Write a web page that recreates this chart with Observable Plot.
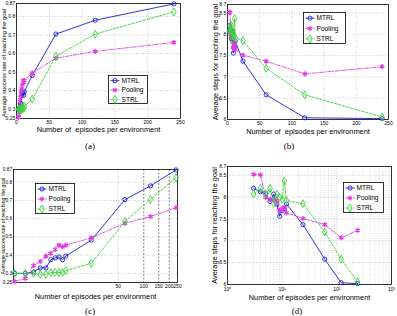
<!DOCTYPE html>
<html><head><meta charset="utf-8">
<script src="https://cdn.jsdelivr.net/npm/d3@7"></script>
<script src="https://cdn.jsdelivr.net/npm/@observablehq/plot@0.6"></script>
<style>
html,body{margin:0;padding:0;background:#fff;}
#fig{position:relative;width:397px;height:316px;overflow:hidden;background:#fff;font-family:"Liberation Sans",Arial,sans-serif;}
.cap{position:absolute;font-family:"Liberation Serif","DejaVu Serif",serif;font-size:9px;transform:translate(-50%,-50%);white-space:nowrap;}
</style></head><body><div id="fig"></div>
<script>
// ---- data ----
const episodes = [3,4,5,6,7,8,9,10,11,12,24,60,120,240];
const successMTRL    = [0.30,0.30,0.307,0.33,0.33,0.375,0.385,0.39,0.375,0.395,0.482,0.705,0.78,0.868];
const successPooling = [0.255,0.273,0.343,0.365,0.395,0.41,0.432,0.455,0.445,0.455,0.495,0.575,0.612,0.66];
const successSTRL    = [0.30,0.30,0.30,0.295,0.295,0.305,0.305,0.305,0.305,0.315,0.355,0.585,0.705,0.825];
const stepsMTRL    = [8.20,8.12,8.07,7.90,8.07,7.84,7.56,7.69,7.73,7.84,7.37,6.58,6.04,6.02];
const stepsPooling = [8.52,8.51,7.99,7.95,7.93,7.92,7.69,7.73,7.77,7.64,7.51,7.37,7.07,7.24];
const stepsSTRL    = [8.07,8.20,8.08,8.20,7.86,8.07,7.99,7.95,8.37,7.92,7.85,7.20,6.58,6.06];
const methods = ["MTRL","Pooling","STRL"];
const successTicks = [0.25,0.3,0.4,0.5,0.6,0.7,0.8,0.87];
const stepsTicks = [6,6.5,7,7.5,8,8.5,8.7];
const linearXTicks = [0,50,100,150,200,250];
const logXTicksC = [50,100,150,200,250];
const logXTicksD = [1,10,100,1000];

const successBy = {MTRL: successMTRL, Pooling: successPooling, STRL: successSTRL};
const stepsBy = {MTRL: stepsMTRL, Pooling: stepsPooling, STRL: stepsSTRL};
const rows = methods.flatMap(m => episodes.map((e,i) => ({method:m, episodes:e, success:successBy[m][i], steps:stepsBy[m][i]})));

const sty = {
  MTRL:    {color:"#1d1dd4", dash:null, symbol:"circle", r:2.1, sw:0.9},
  Pooling: {color:"#e23ce2", dash:"3.5,1.5,1,1.5", symbol:"asterisk", r:2.4, sw:1.3},
  STRL:    {color:"#3ad23a", dash:"2.5,1.5", symbol:"diamond", r:2.4, sw:0.9}
};

const fig = document.getElementById("fig");
const FONT = "Liberation Sans, Arial, sans-serif";

function seriesMarks(yKey) {
  return methods.flatMap(m => {
    const s = sty[m];
    const d = rows.filter(r => r.method === m);
    return [
      Plot.line(d, {x:"episodes", y:yKey, stroke:s.color, strokeWidth:0.9, strokeDasharray:s.dash}),
      Plot.dot(d, {x:"episodes", y:yKey, symbol:s.symbol, r:s.r, stroke:s.color, fill:"none", strokeWidth:s.sw})
    ];
  });
}

function panel(o) {
  const xTickMarks = o.xAsText
    ? [Plot.text(o.xTicks, {x:d=>d, text:d=>String(d), frameAnchor:"bottom", dy:4, fontSize:5, textAnchor:"middle", lineAnchor:"middle", fill:"#000"})]
    : [Plot.axisX(o.xTicks, {tickSize:0, tickPadding:o.xPad || 1.5, label:null, fontSize:5, tickFormat:o.xFmt || (d=>String(d))})];
  const p = Plot.plot({
    width:o.w, height:o.h,
    marginLeft:o.ml, marginRight:o.mr, marginTop:o.mt, marginBottom:o.mb,
    x:{...o.x, axis:null}, y:{...o.y, axis:null},
    style:{fontFamily:FONT, fontSize:"5px", overflow:"visible", background:"transparent"},
    marks:[
      ...o.grid,
      Plot.frame({stroke:"#000", strokeWidth:0.8}),
      ...seriesMarks(o.yKey),
      ...xTickMarks,
      Plot.axisY(o.yTicks, {tickSize:0, tickPadding:1.3, label:null, fontSize:o.yTickFs || 5, tickFormat:d=>String(d)}),
      Plot.text([o.xLabel], {text:d=>d, frameAnchor:"bottom", dy:o.xdy, fontSize:7.4, textAnchor:"middle", lineAnchor:"middle", fill:"#000"}),
      Plot.text([o.yLabel], {text:d=>d, frameAnchor:"left", dx:o.ydx, dy:o.ydy || 0, rotate:-90, fontSize:o.yFs || 7.4, textAnchor:"middle", lineAnchor:"middle", fill:"#000"})
    ]
  });
  p.style.position = "absolute";
  p.style.left = o.left + "px";
  p.style.top = o.top + "px";
  fig.appendChild(p);
}

function legend(left, top, w, h) {
  const svg = d3.create("svg").attr("width", w + 2).attr("height", h + 2)
    .style("position","absolute").style("left", left + "px").style("top", top + "px");
  svg.append("rect").attr("x",0.5).attr("y",0.5).attr("width",w).attr("height",h)
    .attr("fill","#fff").attr("stroke","#000").attr("stroke-width",0.8);
  const symMap = {circle:d3.symbolCircle, asterisk:d3.symbolAsterisk, diamond:d3.symbolDiamond};
  methods.forEach((m,i) => {
    const s = sty[m];
    const y = h * (i + 0.5) / 3 + 1;
    svg.append("line").attr("x1",2.5).attr("x2",11.5).attr("y1",y).attr("y2",y)
      .attr("stroke",s.color).attr("stroke-width",0.9).attr("stroke-dasharray", s.dash);
    svg.append("path").attr("transform",`translate(7,${y})`)
      .attr("d", d3.symbol(symMap[s.symbol], Math.PI * s.r * s.r)())
      .attr("fill","none").attr("stroke",s.color).attr("stroke-width",s.sw);
    svg.append("text").attr("x",13.5).attr("y",y).attr("dy","0.35em")
      .attr("font-family",FONT).attr("font-size",6.6).text(m);
  });
  fig.appendChild(svg.node());
}

function caption(text, x, y) {
  const d = document.createElement("div");
  d.className = "cap"; d.textContent = text;
  d.style.left = x + "px"; d.style.top = y + "px";
  fig.appendChild(d);
}

const gStroke = {stroke:"#9a9a9a", strokeOpacity:1, strokeDasharray:"0.8,1.6", strokeWidth:0.6};
const minorLog = [2,3,4,5,6,7,8,9,20,30,40,50,60,70,80,90,200,300,400,500,600,700,800,900];

// (a)
panel({left:0, top:0, w:200, h:150, ml:16, mr:20, mt:3, mb:32,
  x:{type:"linear", domain:[0,250]}, y:{domain:[0.25,0.87]}, yKey:"success",
  grid:[Plot.gridX(linearXTicks.slice(1,-1), gStroke), Plot.gridY(successTicks.slice(1,-1), gStroke)],
  xTicks:linearXTicks, yTicks:successTicks,
  xLabel:"Number of  episodes per environment", yLabel:"Average success rate of reaching the goal", xdy:11, ydx:-12.4, ydy:2, yFs:5.8});
// (b)
panel({left:200, top:0, w:197, h:150, ml:27, mr:9, mt:4, mb:31,
  x:{type:"linear", domain:[0,250]}, y:{domain:[6,8.7]}, yKey:"steps",
  grid:[Plot.gridX(linearXTicks.slice(1,-1), gStroke), Plot.gridY(stepsTicks.slice(1,-1), gStroke)],
  xTicks:linearXTicks, yTicks:stepsTicks,
  xLabel:"Number of  episodes per environment", yLabel:"Average steps for reaching the goal", xdy:12, ydx:-12});
// (c)
panel({left:0, top:150, w:200, h:166, ml:13, mr:23, mt:19, mb:34,
  x:{type:"log", domain:[2.9,250]}, y:{domain:[0.25,0.87]}, yKey:"success",
  grid:[Plot.gridY(successTicks.slice(1,-1), gStroke), Plot.gridX([50], gStroke),
        Plot.gridX([100,150,200], {stroke:"#333", strokeOpacity:1, strokeDasharray:"2,1.5", strokeWidth:0.6})],
  xTicks:logXTicksC, xAsText:true, yTicks:successTicks, yTickFs:4.8,
  xLabel:"Number of episodes per environment", yLabel:"Average success rate of reaching the goal", xdy:14, ydx:-10.3, yFs:5.2});
// (d)
const sup = ["\u2070","\u00b9","\u00b2","\u00b3"];
panel({left:200, top:150, w:197, h:166, ml:27, mr:6, mt:16, mb:32,
  x:{type:"log", domain:[1,1000]}, y:{domain:[6,8.7]}, yKey:"steps",
  grid:[Plot.gridX(minorLog, {...gStroke, stroke:"#b5b5b5"}), Plot.gridX([10,100], gStroke),
        Plot.gridY(stepsTicks.slice(1,-1), gStroke)],
  xTicks:logXTicksD, xPad:3, yTicks:stepsTicks, xFmt:d => "10" + sup[Math.round(Math.log10(d))],
  xLabel:"Number of episodes per environment", yLabel:"Average steps for reaching the goal", xdy:13, ydx:-13});

legend(108, 75, 39, 28);
legend(303, 12, 42, 31);
legend(35, 183, 39, 30);
legend(343, 182, 40, 30);

caption("(a)", 90, 146);
caption("(b)", 289, 146);
caption("(c)", 90, 311);
caption("(d)", 297, 311);
</script></body></html>
